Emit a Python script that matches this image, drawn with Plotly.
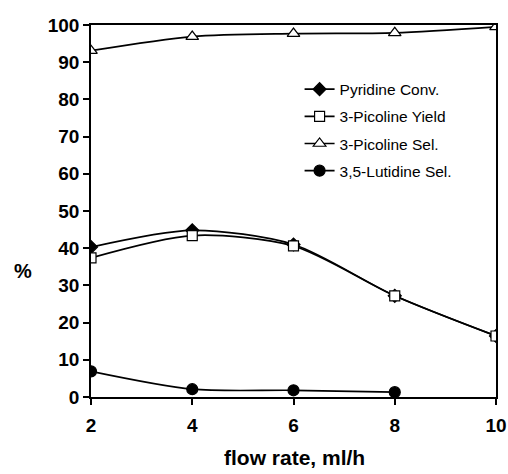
import plotly.graph_objects as go

flow = [2, 4, 6, 8, 10]
pyridine_conv = [40.3, 44.8, 41.0, 27.2, 16.4]
picoline_yield = [37.4, 43.4, 40.6, 27.2, 16.4]
picoline_sel = [93.1, 96.9, 97.7, 97.9, 99.5]
lutidine_flow = [2, 4, 6, 8]
lutidine_sel = [6.9, 2.1, 1.8, 1.3]

FONT = "Liberation Sans, Arial, sans-serif"

fig = go.Figure()
series = [
    ("Pyridine Conv.", flow, pyridine_conv, "diamond", "black", 10, "spline"),
    ("3-Picoline Yield", flow, picoline_yield, "square", "white", 10, "spline"),
    ("3-Picoline Sel.", flow, picoline_sel, "triangle-up", "white", 11, "spline"),
    ("3,5-Lutidine Sel.", lutidine_flow, lutidine_sel, "circle", "black", 11, "spline"),
]
for i, (name, xs, ys, sym, fill, size, shape) in enumerate(series):
    fig.add_trace(go.Scatter(
        x=xs, y=ys, name=name, mode="lines+markers",
        line=dict(color="black", width=1.7, shape=shape, smoothing=0.8),
        marker=dict(symbol=sym, size=size, color=fill, line=dict(color="black", width=1.2)),
        legendgroup=f"g{i}",
    ))

L, R, T, B = 91, 12, 25, 77
PW, PH = 508 - L - R, 474 - T - B

fig.update_layout(
    width=508, height=474,
    margin=dict(l=L, r=R, t=T, b=B, autoexpand=False),
    paper_bgcolor="white", plot_bgcolor="white",
    font=dict(family=FONT, color="black"),
    showlegend=True,
    legend=dict(x=0.515, y=0.872, xanchor="left", yanchor="top",
                bgcolor="rgba(0,0,0,0)", font=dict(size=15.5, family=FONT),
                tracegroupgap=4, itemwidth=30),
    xaxis=dict(range=[2, 10], tickvals=[2, 4, 6, 8, 10], showgrid=False, zeroline=False,
               showline=True, linecolor="black", linewidth=1.5, mirror=True, automargin=False,
               ticks="outside", ticklen=6, tickwidth=1.5, tickcolor="black", ticklabelstandoff=4,
               tickfont=dict(size=19, family=FONT, weight="bold")),
    yaxis=dict(range=[0, 100], tickvals=list(range(0, 101, 10)), showgrid=False, zeroline=False,
               showline=True, linecolor="black", linewidth=1.5, mirror=True, automargin=False,
               ticks="outside", ticklen=6, tickwidth=1.5, tickcolor="black",
               tickfont=dict(size=19, family=FONT, weight="bold")),
    annotations=[
        dict(text="%", x=-(L - 23) / PW, y=(397 - 271) / PH, xref="paper", yref="paper",
             showarrow=False, xanchor="center", yanchor="middle",
             font=dict(size=20, family=FONT, weight="bold")),
        dict(text="flow rate, ml/h", x=(294 - L) / PW, y=-(457 - 397) / PH, xref="paper", yref="paper",
             showarrow=False, xanchor="center", yanchor="middle",
             font=dict(size=21, family=FONT, weight="bold")),
    ],
)

fig.write_html("out.html")
